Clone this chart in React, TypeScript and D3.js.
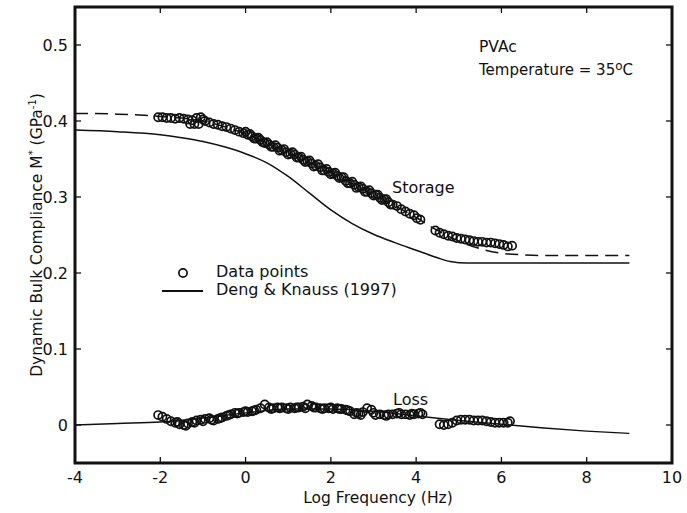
import React from "react";
import * as d3 from "d3";

const xTicks = [-4, -2, 0, 2, 4, 6, 8, 10];
const yTicks = [0, 0.1, 0.2, 0.3, 0.4, 0.5];

// Storage data points [logFreq, compliance]
const storageData: [number, number][] = [
  [-2.05, 0.405], [-1.95, 0.405], [-1.85, 0.404], [-1.75, 0.404], [-1.65, 0.403], [-1.55, 0.404],
  [-1.45, 0.403], [-1.35, 0.402], [-1.3, 0.396], [-1.25, 0.401], [-1.2, 0.396], [-1.15, 0.404],
  [-1.1, 0.396], [-1.05, 0.405], [-1.0, 0.402], [-0.95, 0.4], [-0.85, 0.398], [-0.75, 0.396],
  [-0.65, 0.395], [-0.55, 0.393], [-0.45, 0.392], [-0.35, 0.39], [-0.25, 0.388], [-0.15, 0.386],
  [-0.05, 0.384], [0.05, 0.382], [0.15, 0.38], [0.25, 0.377], [0.35, 0.375], [0.45, 0.371],
  [0.55, 0.369], [0.65, 0.366], [0.75, 0.365], [0.85, 0.362], [0.95, 0.359], [1.05, 0.357],
  [1.15, 0.356], [1.25, 0.352], [1.35, 0.349], [1.45, 0.347], [1.55, 0.344], [1.65, 0.341],
  [1.75, 0.339], [1.85, 0.335], [1.95, 0.333], [2.05, 0.331], [2.15, 0.328], [2.25, 0.326],
  [2.35, 0.321], [2.45, 0.318], [2.55, 0.316], [2.65, 0.313], [2.75, 0.311], [2.85, 0.307],
  [2.95, 0.305], [3.05, 0.303], [3.15, 0.299], [3.25, 0.297], [3.35, 0.293], [3.45, 0.29],
  [3.55, 0.288], [3.65, 0.284], [3.75, 0.281], [3.85, 0.278], [3.95, 0.276], [4.02, 0.272],
  [4.1, 0.27], [4.45, 0.256], [4.55, 0.253], [4.65, 0.251], [4.75, 0.249], [4.85, 0.248],
  [4.95, 0.246], [5.05, 0.245], [5.15, 0.244], [5.25, 0.243], [5.35, 0.242], [5.45, 0.241],
  [5.55, 0.241], [5.65, 0.24], [5.75, 0.24], [5.85, 0.239], [5.95, 0.238], [6.05, 0.237],
  [6.15, 0.235], [6.25, 0.236],
  // overlapping second run
  [0.0, 0.386], [0.1, 0.383], [0.2, 0.377], [0.3, 0.378], [0.4, 0.372], [0.5, 0.372],
  [0.6, 0.366], [0.7, 0.368], [0.8, 0.361], [0.9, 0.363], [1.0, 0.356], [1.1, 0.359],
  [1.2, 0.352], [1.3, 0.353], [1.4, 0.346], [1.5, 0.348], [1.6, 0.34], [1.7, 0.343],
  [1.8, 0.335], [1.9, 0.337], [2.0, 0.33], [2.1, 0.332], [2.2, 0.325], [2.3, 0.326],
  [2.4, 0.318], [2.5, 0.32], [2.6, 0.312], [2.7, 0.314], [2.8, 0.307], [2.9, 0.309],
  [3.0, 0.302], [3.1, 0.303], [3.2, 0.296], [3.3, 0.297], [3.4, 0.29],
];

// Loss data points
const lossData: [number, number][] = [
  [-2.05, 0.013], [-1.95, 0.011], [-1.85, 0.008], [-1.75, 0.005], [-1.65, 0.003], [-1.55, 0.001],
  [-1.45, 0.0], [-1.35, 0.002], [-1.25, 0.004], [-1.15, 0.006], [-1.05, 0.007], [-0.95, 0.008],
  [-0.85, 0.009], [-0.75, 0.006], [-0.65, 0.008], [-0.55, 0.01], [-0.45, 0.012], [-0.35, 0.014],
  [-0.25, 0.016], [-0.15, 0.016], [-0.05, 0.017], [0.05, 0.017], [0.15, 0.018], [0.25, 0.02],
  [0.35, 0.022], [0.45, 0.027], [0.55, 0.023], [0.65, 0.022], [0.75, 0.023], [0.85, 0.023],
  [0.95, 0.022], [1.05, 0.023], [1.15, 0.022], [1.25, 0.023], [1.35, 0.024], [1.45, 0.027],
  [1.55, 0.025], [1.65, 0.023], [1.75, 0.022], [1.85, 0.022], [1.95, 0.022], [2.05, 0.021],
  [2.15, 0.022], [2.25, 0.021], [2.35, 0.02], [2.45, 0.018], [2.55, 0.014], [2.65, 0.015],
  [2.75, 0.017], [2.85, 0.022], [2.95, 0.02], [3.05, 0.013], [3.15, 0.014], [3.25, 0.013],
  [3.35, 0.014], [3.45, 0.014], [3.55, 0.015], [3.65, 0.014], [3.75, 0.014], [3.85, 0.013],
  [3.95, 0.014], [4.05, 0.015], [4.15, 0.014], [4.55, 0.001], [4.65, 0.0], [4.75, 0.001],
  [4.85, 0.003], [4.95, 0.006], [5.05, 0.007], [5.15, 0.007], [5.25, 0.007], [5.35, 0.006],
  [5.45, 0.006], [5.55, 0.006], [5.65, 0.005], [5.75, 0.004], [5.85, 0.003], [5.95, 0.003],
  [6.05, 0.003], [6.15, 0.003], [6.2, 0.005],
  // overlapping second run
  [-1.6, 0.004], [-1.4, -0.001], [-1.2, 0.003], [-1.0, 0.005], [-0.8, 0.007], [-0.6, 0.009],
  [-0.4, 0.013], [-0.2, 0.015], [0.0, 0.018], [0.2, 0.019], [0.6, 0.021], [0.8, 0.022],
  [1.0, 0.021], [1.2, 0.023], [1.4, 0.022], [1.6, 0.023], [1.8, 0.021], [2.0, 0.023],
  [2.2, 0.021], [2.4, 0.019], [2.6, 0.016], [2.7, 0.013], [3.0, 0.016], [3.3, 0.012],
  [3.6, 0.016], [3.9, 0.015], [4.1, 0.016],
];

// Dashed fit through storage data
const storageFit: [number, number][] = [
  [-4, 0.41], [-3, 0.409], [-2, 0.406], [-1, 0.4], [0, 0.383], [1, 0.358], [2, 0.332],
  [3, 0.303], [4, 0.273], [4.5, 0.256], [5, 0.242], [5.5, 0.232], [6, 0.226], [6.5, 0.224],
  [7, 0.223], [8, 0.223], [9, 0.223],
];

// Deng & Knauss (1997) storage
const dengStorage: [number, number][] = [
  [-4, 0.388], [-3, 0.386], [-2, 0.382], [-1.5, 0.378], [-1, 0.373], [-0.5, 0.366], [0, 0.357],
  [0.5, 0.345], [1, 0.327], [1.5, 0.305], [2, 0.283], [2.5, 0.265], [3, 0.251], [3.5, 0.24],
  [4, 0.23], [4.5, 0.22], [4.8, 0.215], [5.2, 0.213], [6, 0.213], [7, 0.213], [8, 0.213], [9, 0.213],
];

// Deng & Knauss (1997) loss
const dengLoss: [number, number][] = [
  [-4, 0.0], [-3, 0.002], [-2, 0.004], [-1, 0.009], [0, 0.016], [1, 0.021], [2, 0.021],
  [3, 0.018], [4, 0.012], [5, 0.006], [6, 0.001], [7, -0.004], [8, -0.008], [9, -0.011],
];

const W = 687;
const H = 513;
const L = 75, R = 672, T = 7, B = 463;
const FONT = "'DejaVu Sans', Verdana, sans-serif";
const INK = "#111";

export default function App() {
  const x = d3.scaleLinear().domain([-4, 10]).range([L, R]);
  const y = d3.scaleLinear().domain([-0.05, 0.55]).range([B, T]);
  const line = d3
    .line<[number, number]>()
    .x((d) => x(d[0]))
    .y((d) => y(d[1]))
    .curve(d3.curveMonotoneX);
  const tk = 6;
  const r = 4.1;
  const sw = 1.7;

  return (
    <svg
      width={W}
      height={H}
      style={{ position: "absolute", left: 0, top: 0, background: "#fff" }}
      fontFamily={FONT}
    >
      <rect x={0} y={0} width={W} height={H} fill="#fff" />
      {/* curves */}
      <path d={line(storageFit) || ""} fill="none" stroke={INK} strokeWidth={1.5} strokeDasharray="13,7" />
      <path d={line(dengStorage) || ""} fill="none" stroke={INK} strokeWidth={1.5} />
      <path d={line(dengLoss) || ""} fill="none" stroke={INK} strokeWidth={1.4} />
      {/* data points */}
      {storageData.map((d, i) => (
        <circle key={"s" + i} cx={x(d[0])} cy={y(d[1])} r={r} fill="none" stroke={INK} strokeWidth={sw} />
      ))}
      {lossData.map((d, i) => (
        <circle key={"l" + i} cx={x(d[0])} cy={y(d[1])} r={r} fill="none" stroke={INK} strokeWidth={sw} />
      ))}
      {/* frame */}
      <rect x={L} y={T} width={R - L} height={B - T} fill="none" stroke={INK} strokeWidth={3} />
      {/* ticks */}
      {xTicks.map((t) => (
        <g key={"xt" + t}>
          <line x1={x(t)} x2={x(t)} y1={B} y2={B - tk} stroke={INK} strokeWidth={1.3} />
          <line x1={x(t)} x2={x(t)} y1={T} y2={T + tk} stroke={INK} strokeWidth={1.3} />
          <text x={x(t)} y={483} fontSize={16} textAnchor="middle" fill={INK}>
            {t}
          </text>
        </g>
      ))}
      {yTicks.map((t) => (
        <g key={"yt" + t}>
          <line x1={L} x2={L + tk} y1={y(t)} y2={y(t)} stroke={INK} strokeWidth={1.3} />
          <line x1={R} x2={R - tk} y1={y(t)} y2={y(t)} stroke={INK} strokeWidth={1.3} />
          <text x={68} y={y(t) + 6} fontSize={16} textAnchor="end" fill={INK}>
            {t === 0 ? "0" : d3.format(".1f")(t)}
          </text>
        </g>
      ))}
      {/* axis labels */}
      <text x={378} y={503} fontSize={15.5} textAnchor="middle" fill={INK}>
        Log Frequency (Hz)
      </text>
      <text
        transform={`translate(42, ${235}) rotate(-90)`}
        fontSize={15.5}
        textAnchor="middle"
        fill={INK}
      >
        Dynamic Bulk Compliance M
        <tspan dy={-6} fontSize={10}>*</tspan>
        <tspan dy={6}> (GPa</tspan>
        <tspan dy={-6} fontSize={10}>-1</tspan>
        <tspan dy={6}>)</tspan>
      </text>
      {/* annotations */}
      <text x={479} y={52} fontSize={15.5} fill={INK}>PVAc</text>
      <text x={479} y={75} fontSize={15} fill={INK}>
        Temperature = 35
        <tspan dy={-5} fontSize={12}>o</tspan>
        <tspan dy={5}>C</tspan>
      </text>
      <text x={392} y={193} fontSize={16} fill={INK}>Storage</text>
      <text x={393} y={405} fontSize={16} fill={INK}>Loss</text>
      {/* legend */}
      <circle cx={183} cy={273} r={r} fill="none" stroke={INK} strokeWidth={sw} />
      <text x={216} y={277} fontSize={16} fill={INK}>Data points</text>
      <line x1={162} x2={203} y1={291} y2={291} stroke={INK} strokeWidth={2.2} />
      <text x={216} y={295} fontSize={16} fill={INK}>Deng &amp; Knauss (1997)</text>
    </svg>
  );
}
